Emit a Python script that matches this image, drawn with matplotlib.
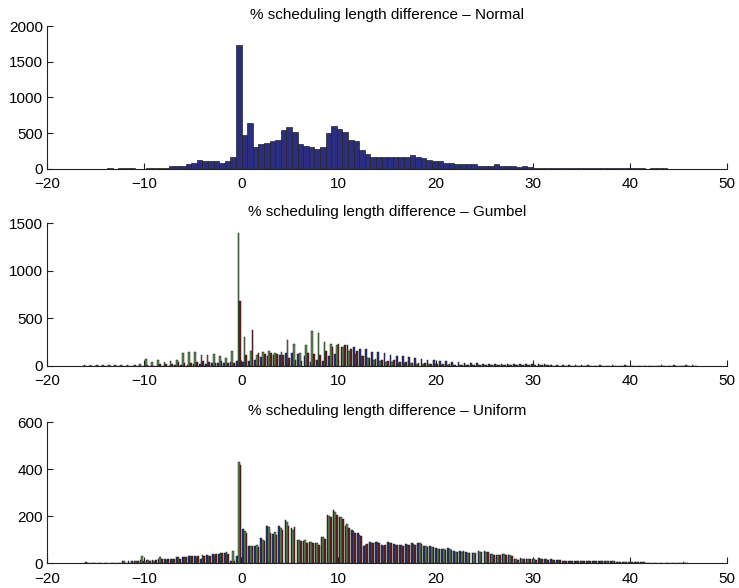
import numpy as np
import matplotlib
matplotlib.use("Agg")
import matplotlib.pyplot as plt

plt.rcParams['font.family'] = ['Liberation Sans', 'DejaVu Sans']

# ---------------- data ----------------
# Normal: 100 histogram bins between min and max of the data
normal_range = (-13.8, 43.85)
normal_counts = [19, 0, 15, 15, 15, 0, 0, 15, 15, 19,
                 19, 40, 40, 45, 65, 90, 125, 107, 107, 107,
                 89, 107, 172, 1740, 475, 648, 308, 345, 368, 391,
                 410, 540, 587, 517, 345, 326, 308, 280, 308, 499,
                 606, 564, 517, 410, 391, 261, 214, 172, 172, 172,
                 172, 172, 172, 172, 195, 172, 150, 126, 107, 107,
                 84, 84, 65, 65, 65, 65, 47, 47, 47, 65,
                 47, 47, 47, 28, 47, 28, 19, 19, 19, 19,
                 19, 19, 19, 19, 19, 19, 19, 19, 19, 19,
                 19, 19, 19, 19, 19, 19, 0, 15, 15, 15]

# Gumbel: 100 bins, three series per bin
gumbel_range = (-16.47, 46.93)
gumbel_blue = [0, 0, 0, 0, 0, 0, 0, 0, 0, 0,
               0, 0, 0, 0, 0, 10, 10, 10, 15, 15,
               20, 25, 25, 30, 40, 50, 40, 50, 60, 90,
               100, 110, 110, 130, 130, 125, 100, 40, 60, 50,
               100, 120, 200, 220, 200, 180, 180, 140, 140, 130,
               110, 100, 100, 90, 80, 70, 60, 55, 50, 50,
               40, 35, 30, 30, 25, 20, 20, 20, 20, 20,
               20, 20, 20, 20, 20, 20, 12, 12, 12, 12,
               12, 12, 12, 0, 8, 0, 8, 0, 8, 0,
               0, 0, 0, 0, 8, 0, 8, 0, 8, 8]
gumbel_green = [12, 12, 12, 12, 12, 12, 12, 12, 0, 15,
                70, 40, 55, 40, 50, 60, 130, 140, 140, 115,
                110, 120, 100, 80, 150, 1400, 300, 150, 110, 140,
                150, 130, 140, 270, 230, 130, 220, 370, 340, 250,
                230, 220, 200, 150, 120, 100, 80, 60, 50, 40,
                40, 30, 30, 25, 20, 20, 15, 15, 10, 10,
                10, 10, 10, 5, 5, 5, 5, 5, 5, 5,
                5, 5, 5, 5, 5, 5, 0, 0, 0, 0,
                0, 0, 0, 0, 0, 0, 0, 0, 0, 0,
                0, 0, 0, 0, 0, 0, 0, 0, 0, 0]
gumbel_red = [0, 0, 0, 0, 0, 0, 0, 0, 10, 0,
              10, 0, 15, 20, 15, 40, 25, 30, 40, 50,
              40, 30, 50, 30, 30, 680, 110, 375, 130, 120,
              130, 120, 110, 80, 60, 50, 130, 120, 110, 160,
              200, 230, 220, 180, 150, 100, 80, 70, 60, 50,
              60, 40, 40, 30, 30, 25, 20, 20, 15, 15,
              10, 10, 10, 10, 10, 5, 5, 5, 5, 5,
              5, 5, 5, 5, 5, 5, 0, 0, 0, 0,
              0, 0, 0, 0, 0, 0, 0, 0, 0, 0,
              0, 0, 0, 0, 0, 0, 0, 0, 0, 0]

# Uniform: 100 bins, three series per bin
uniform_range = (-16.1, 46.0)
uniform_blue = [5, 0, 0, 0, 0, 0, 10, 10, 10, 15,
                15, 15, 20, 20, 20, 25, 25, 30, 30, 20,
                35, 40, 40, 45, 10, 30, 146, 74, 74, 106,
                159, 125, 159, 184, 150, 100, 95, 92, 85, 113,
                206, 227, 199, 160, 142, 128, 75, 92, 90, 78,
                92, 82, 78, 81, 85, 88, 75, 74, 64, 62,
                65, 52, 54, 47, 45, 51, 52, 40, 37, 40,
                37, 18, 21, 20, 18, 21, 18, 18, 14, 11,
                10, 9, 9, 9, 9, 9, 9, 9, 7, 7,
                7, 7, 7, 0, 0, 0, 0, 0, 0, 5]
uniform_green = [0, 0, 0, 0, 0, 0, 10, 0, 10, 30,
                 15, 10, 25, 15, 20, 25, 25, 30, 25, 35,
                 30, 35, 45, 50, 54, 432, 139, 74, 76, 99,
                 153, 135, 150, 177, 140, 99, 99, 90, 88, 110,
                 200, 220, 195, 166, 138, 120, 78, 88, 92, 75,
                 88, 80, 76, 80, 82, 85, 72, 70, 62, 60,
                 60, 50, 50, 45, 44, 48, 50, 38, 35, 38,
                 35, 17, 20, 18, 17, 19, 17, 16, 13, 10,
                 9, 8, 8, 8, 8, 8, 8, 8, 6, 6,
                 6, 6, 6, 0, 0, 0, 0, 0, 0, 0]
uniform_red = [0, 0, 0, 0, 0, 0, 0, 10, 10, 10,
               10, 15, 20, 20, 20, 20, 25, 30, 30, 30,
               30, 40, 45, 40, 10, 418, 130, 74, 70, 95,
               130, 120, 140, 160, 153, 95, 88, 85, 80, 105,
               195, 205, 190, 150, 130, 115, 81, 85, 88, 76,
               85, 78, 75, 78, 80, 83, 70, 68, 60, 58,
               58, 48, 52, 44, 42, 46, 48, 36, 34, 37,
               33, 16, 18, 17, 16, 18, 15, 15, 12, 10,
               9, 8, 8, 8, 8, 8, 8, 8, 6, 6,
               6, 6, 6, 0, 0, 0, 0, 0, 0, 0]

titles = ['% scheduling length difference \u2013 Normal',
          '% scheduling length difference \u2013 Gumbel',
          '% scheduling length difference \u2013 Uniform']
x_ticks = [-20, -10, 0, 10, 20, 30, 40, 50]
x_ticklabels = ['\u221220', '\u221210', '0', '10', '20', '30', '40', '50']
y_ticks_normal = [0, 500, 1000, 1500, 2000]
y_ticks_gumbel = [0, 500, 1000, 1500]
y_ticks_uniform = [0, 200, 400, 600]

# ---------------- style ----------------
NAVY = '#2b2e7e'
GREEN = '#5f8f4e'
RED = '#6a1d1d'
EDGE = '#222222'
FS = 11.0

W, H = 739, 588
fig = plt.figure(figsize=(W / 100, H / 100), dpi=100)

def axes_px(top_px, bottom_px, left_px=47, right_px=727):
    return fig.add_axes([left_px / W, 1 - bottom_px / H,
                         (right_px - left_px) / W, (bottom_px - top_px) / H])

ax1 = axes_px(26, 169)
ax2 = axes_px(223.3, 365.7)
ax3 = axes_px(422.3, 563.3)

def style(ax, yticks, title):
    ax.set_xlim(-20, 50)
    ax.set_ylim(yticks[0], yticks[-1])
    ax.set_xticks(x_ticks)
    ax.set_xticklabels(x_ticklabels)
    ax.set_yticks(yticks)
    for s in ['top', 'right']:
        ax.spines[s].set_visible(False)
    for s in ['left', 'bottom']:
        ax.spines[s].set_linewidth(0.8)
        ax.spines[s].set_color('#222222')
    ax.tick_params(direction='in', length=4.5, width=0.8, labelsize=FS,
                   colors='#222222', labelcolor='black')
    ax.tick_params(axis='x', pad=6)
    ax.tick_params(axis='y', pad=3)
    ax.set_title(title, fontsize=FS, pad=5)

def centers(rng, n):
    w = (rng[1] - rng[0]) / n
    return rng[0] + w * (np.arange(n) + 0.5), w

# Normal
c, w = centers(normal_range, len(normal_counts))
ax1.bar(c, normal_counts, width=w, color=NAVY, edgecolor=EDGE, linewidth=0.5, zorder=2)
style(ax1, y_ticks_normal, titles[0])

def grouped(ax, rng, series, colors, group_frac=0.82):
    n = len(series[0])
    c, w = centers(rng, n)
    m = len(series)
    bw = w * group_frac / m
    for j, (vals, col) in enumerate(zip(series, colors)):
        ax.bar(c + (j - (m - 1) / 2) * bw, vals, width=bw, color=col,
               edgecolor=EDGE, linewidth=0.35, zorder=2)

grouped(ax2, gumbel_range, [gumbel_blue, gumbel_green, gumbel_red], [NAVY, GREEN, RED])
style(ax2, y_ticks_gumbel, titles[1])

grouped(ax3, uniform_range, [uniform_blue, uniform_green, uniform_red], [NAVY, GREEN, RED])
style(ax3, y_ticks_uniform, titles[2])

fig.savefig('out.png', dpi=100)
